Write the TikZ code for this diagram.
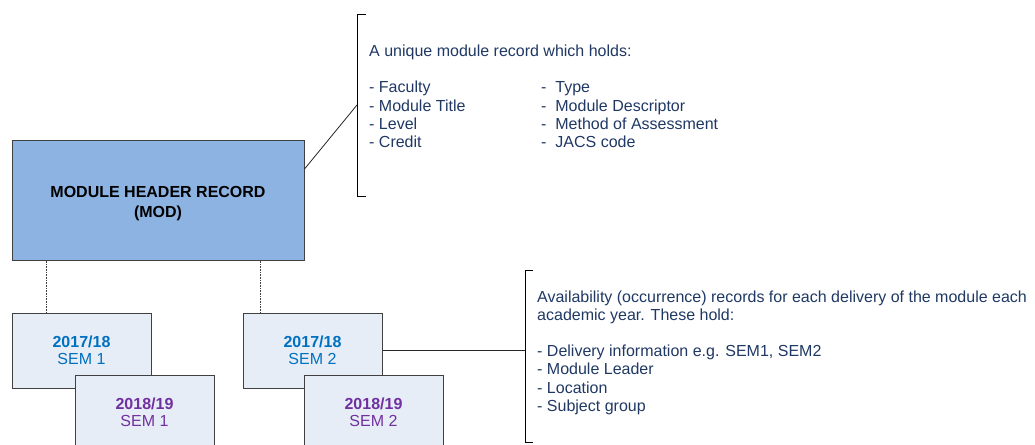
\documentclass[tikz,border=0pt]{standalone}
\usepackage{fontspec}
\setmainfont{Liberation Sans}
\definecolor{modfill}{RGB}{141,179,226}
\definecolor{occfill}{RGB}{231,237,246}
\definecolor{boxline}{RGB}{64,64,64}
\definecolor{yearblue}{RGB}{0,112,192}
\definecolor{yearpurple}{RGB}{112,48,160}
\definecolor{notenavy}{RGB}{31,56,100}
\newcommand\notefont{\fontsize{16}{18.2}\selectfont}
\newcommand\occfont{\fontsize{16}{17.5}\selectfont}
\newcommand\modfont{\fontsize{16}{20}\selectfont\bfseries}
\newcommand\occwidth{139pt}
\newcommand\occheight{75pt}
\newcommand\occlabel[3]{\textcolor{#1}{\textbf{#2}}\\\textcolor{#1}{#3}}
\tikzset{
  modbox/.style={draw=boxline, fill=modfill, line width=1pt, minimum width=292pt,
    minimum height=120pt, align=center, font=\modfont, text height=34pt, text depth=0pt},
  occbox/.style={draw=boxline, fill=occfill, line width=1pt, minimum width=\occwidth,
    minimum height=\occheight, align=center, font=\occfont},
  notetext/.style={text=notenavy, font=\notefont, inner sep=0pt, anchor=base west},
  bracketline/.style={line width=1pt, black},
  linkline/.style={line width=0.8pt, black!85},
  linkdot/.style={line width=0.6pt, boxline, densely dotted}
}

\begin{document}
\begin{tikzpicture}[x=1pt, y=-1pt]
  \useasboundingbox (0,0) rectangle (1035,444);

  \node[modbox] (mod) at (158,200) {MODULE HEADER RECORD\\(MOD)};

  \node[occbox] (occA) at (81.5,350.5) {\occlabel{yearblue}{2017/18}{SEM 1}};
  \node[occbox] (occB) at (144.5,412.5) {\occlabel{yearpurple}{2018/19}{SEM 1}};
  \node[occbox] (occC) at (312.5,350.5) {\occlabel{yearblue}{2017/18}{SEM 2}};
  \node[occbox] (occD) at (373.5,412.5) {\occlabel{yearpurple}{2018/19}{SEM 2}};

  \path (occA.north west) ++(35,0) coordinate (occAtap);
  \path (occC.north west) ++(18,0) coordinate (occCtap);
  \draw[linkdot] (occAtap) -- (occAtap |- mod.south);
  \draw[linkdot] (occCtap) -- (occCtap |- mod.south);

  \coordinate (modbrk) at (357,105);
  \draw[bracketline] (366,15) -- (357,15) -- (357,196) -- (366,196);
  \draw[linkline] (mod.east) ++(0,-31) -- (modbrk);

  \coordinate (occbrk) at (525,350.5);
  \draw[bracketline] (533,270) -- (525,270) -- (525,442) -- (533,442);
  \draw[linkline] (occC.east) -- (occbrk);

  \node[notetext] (modnote) at (369,56.5) {\begin{tabular}[t]{@{}p{172pt}@{}l@{}}
    \multicolumn{2}{@{}l@{}}{A unique module record which holds:}\\
    \\
    - Faculty & -\ \ Type\\
    - Module Title & -\ \ Module Descriptor\\
    - Level & -\ \ Method of Assessment\\
    - Credit & -\ \ JACS code
  \end{tabular}};

  \node[notetext] (occnote) at (537,302) {\begin{tabular}[t]{@{}l@{}}
    Availability (occurrence) records for each delivery of the module each\\
    academic year. These hold:\\
    \\
    - Delivery information e.g. SEM1, SEM2\\
    - Module Leader\\
    - Location\\
    - Subject group
  \end{tabular}};
\end{tikzpicture}
\end{document}
